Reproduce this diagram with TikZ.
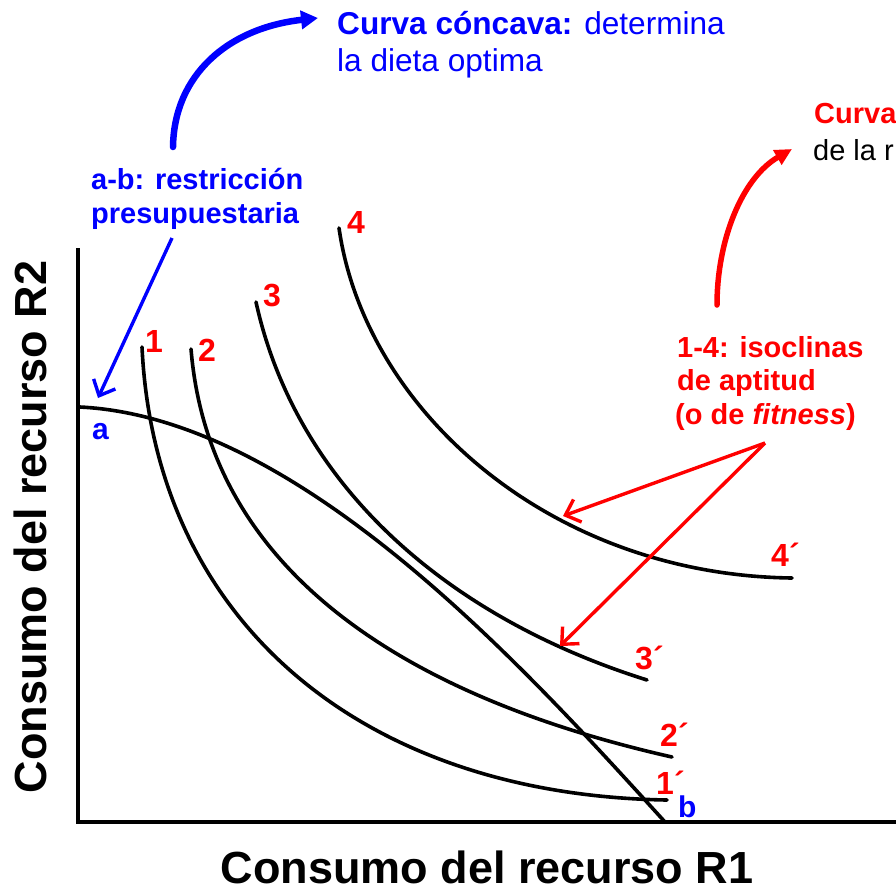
\documentclass[tikz,border=0pt]{standalone}
\usepackage{fontspec}
\setmainfont{Liberation Sans}
\usetikzlibrary{arrows.meta}
\definecolor{pblue}{RGB}{0,0,255}
\definecolor{pred}{RGB}{255,0,0}
\newcommand{\fsz}[1]{\fontsize{#1}{#1}\selectfont}
\begin{document}
\begin{tikzpicture}[x=1pt,y=-1pt,
  curve/.style={line width=3.6pt, line cap=round, black},
  axisline/.style={line width=4.5pt, black},
  num/.style={inner sep=0pt, anchor=base west, font=\bfseries\fsz{32}, text=pred},
  numc/.style={inner sep=0pt, anchor=center, font=\bfseries\fsz{32}, text=pred},
  txt/.style={inner sep=0pt, anchor=base west},
  bigarrowblue/.style={line width=6.5pt, pblue, line cap=round, -{Triangle[length=17pt,width=18pt]}},
  bigarrowred/.style={line width=5.5pt, pred, line cap=round, -{Triangle[length=17pt,width=16pt]}},
  thinarrow/.style={line width=3.4pt, -{Straight Barb[length=13pt,width=24pt,line width=3.4pt]}}]
\useasboundingbox (0,0) rectangle (896,892);
\clip (0,0) rectangle (896,892);
\fill[white] (0,0) rectangle (896,892);

% axes
\coordinate (origin) at (78,822);
\coordinate (ytop) at (78,248);
\coordinate (xend) at (900,822);
\draw[axisline] (ytop) -- (origin) -- (xend);

% budget line a-b
\coordinate (pa) at (80,407);
\coordinate (pb) at (665,822);
\draw[curve] (pa) .. controls (300,418) and (525,668) .. (pb);

% isoclines
\draw[curve] (142,347) .. controls (155,620) and (360,795) .. (667,800);
\draw[curve] (191,349) .. controls (210,580) and (420,700) .. (672,757);
\draw[curve] (256,302) .. controls (295,480) and (440,615) .. (647,680);
\draw[curve] (339,228) .. controls (365,410) and (550,575) .. (792,578);

% curve labels
\node[numc] (n1) at (154,341) {1};
\node[numc] (n2) at (207,350) {2};
\node[numc] (n3) at (272,295) {3};
\node[numc] (n4) at (356,222) {4};
\node[num] (n1p) at (656,794) {1´};
\node[num] (n2p) at (660,746) {2´};
\node[num] (n3p) at (635,669) {3´};
\node[num] (n4p) at (771,566) {4´};
\node[txt, font=\bfseries\fsz{30}, text=pblue] (la) at (92,439) {a};
\node[txt, font=\bfseries\fsz{30}, text=pblue] (lb) at (678,817) {b};

% axis titles
\node[inner sep=0pt, anchor=base, font=\bfseries\fsz{45}] (xlab) at (487,883) {Consumo del recurso R1};
\node[inner sep=0pt, anchor=base, rotate=90, font=\bfseries\fsz{45}] (ylab) at (46,527) {Consumo del recurso R2};

% budget label
\node[txt, font=\bfseries\fsz{29}, text=pblue] (ab1) at (91,189) {a-b: restricción};
\node[txt, font=\bfseries\fsz{29}, text=pblue] (ab2) at (91,223) {presupuestaria};
\coordinate (abtail) at (172,238);
\coordinate (abtip) at (98,398);
\draw[thinarrow, pblue] (abtail) -- (abtip);

% concave curve label
\node[txt, font=\fsz{31.6}, text=pblue] (cc1) at (337,34) {\textbf{Curva cóncava:} determina};
\node[txt, font=\fsz{31.6}, text=pblue] (cc2) at (337,71) {la dieta optima};
\coordinate (bcstart) at (173,147);
\coordinate (bcend) at (318,18);
\draw[bigarrowblue] (bcstart) .. controls (174,75) and (228,28) .. (bcend);

% convex curve label (cut at right edge)
\node[txt, font=\bfseries\fsz{29}, text=pred] (cv1) at (814,123) {Curva};
\node[txt, font=\fsz{29}, text=black] (cv2) at (813,160) {de la r};
\coordinate (rcstart) at (717,305);
\coordinate (rcend) at (792,149);
\draw[bigarrowred] (rcstart) .. controls (717,240) and (742,178) .. (rcend);

% isocline label
\node[txt, font=\bfseries\fsz{29}, text=pred] (iso1) at (677,357) {1-4: isoclinas};
\node[txt, font=\bfseries\fsz{29}, text=pred] (iso2) at (677,390) {de aptitud};
\node[txt, font=\bfseries\fsz{29}, text=pred] (iso3) at (675,424) {(o de \textit{fitness})};
\coordinate (isotail) at (765,443);
\coordinate (isotip1) at (563,516);
\coordinate (isotip2) at (560,646);
\draw[thinarrow, pred] (isotail) -- (isotip1);
\draw[thinarrow, pred] (isotail) -- (isotip2);
\end{tikzpicture}
\end{document}
